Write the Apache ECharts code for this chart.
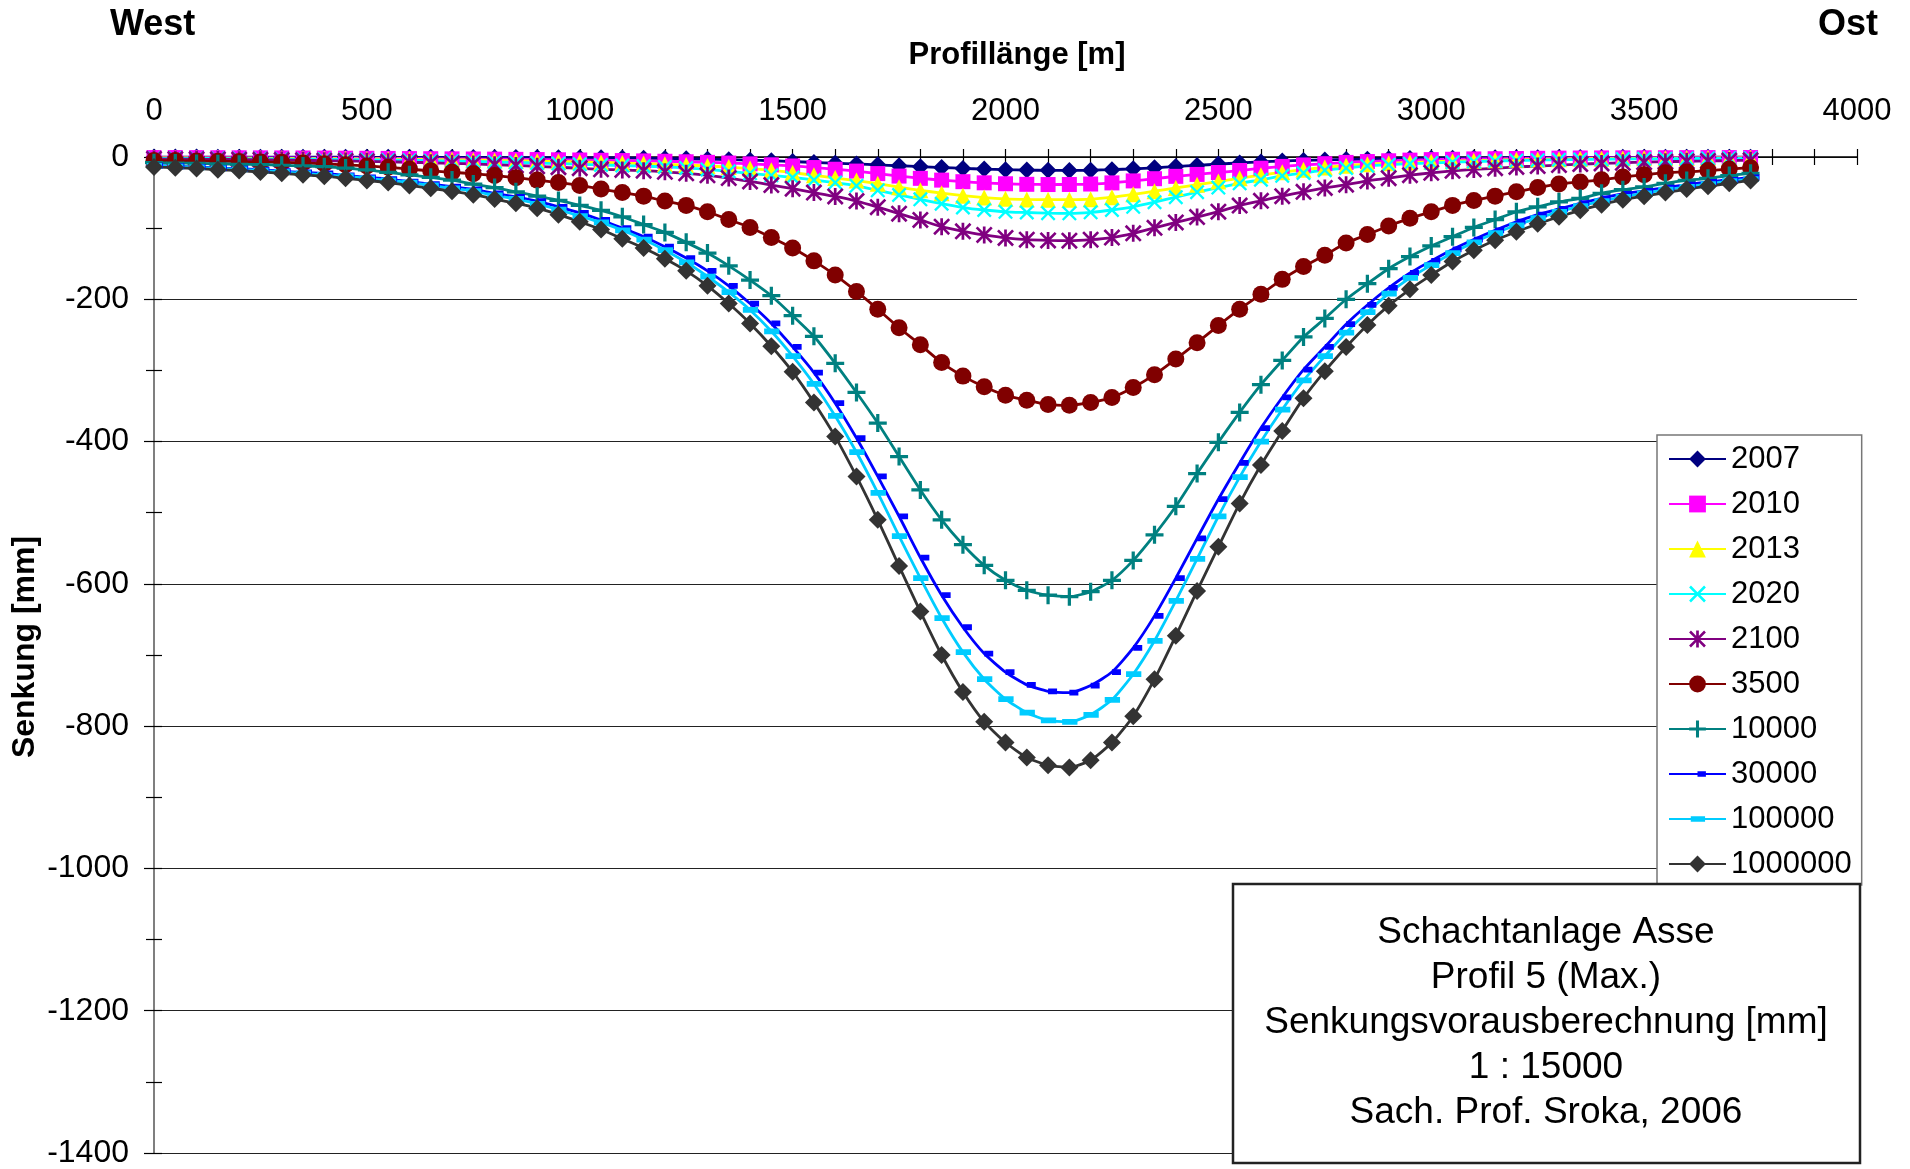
<!DOCTYPE html>
<html>
<head>
<meta charset="utf-8">
<script src="https://cdn.jsdelivr.net/npm/echarts@6/dist/echarts.min.js"></script>
<style>
html, body { margin: 0; padding: 0; background: #fff; }
#chart { width: 1910px; height: 1169px; }
</style>
</head>
<body>
<div id="chart"></div>
<script>
// Profile positions along the section line [m]
const profileX = [0,50,100,150,200,250,300,350,400,450,500,550,600,650,700,750,800,850,900,950,
  1000,1050,1100,1150,1200,1250,1300,1350,1400,1450,1500,1550,1600,1650,1700,1750,1800,1850,1900,1950,
  2000,2050,2100,2150,2200,2250,2300,2350,2400,2450,2500,2550,2600,2650,2700,2750,2800,2850,2900,2950,
  3000,3050,3100,3150,3200,3250,3300,3350,3400,3450,3500,3550,3600,3650,3700,3750];

// Forecast years / time horizons
const seriesNames = ['2007','2010','2013','2020','2100','3500','10000','30000','100000','1000000'];

// Subsidence [mm] per profile position, one array per horizon
const s2007 = [-0.1,-0.1,-0.1,-0.2,-0.2,-0.2,-0.2,-0.3,-0.3,-0.3,
  -0.4,-0.4,-0.5,-0.5,-0.6,-0.6,-0.7,-0.8,-0.8,-0.9,
  -1.0,-1.2,-1.4,-1.7,-2.0,-2.5,-3.1,-3.8,-4.5,-5.3,
  -6.4,-7.6,-8.7,-9.8,-11.0,-12.3,-13.6,-14.8,-16.0,-17.0,
  -17.8,-18.4,-18.8,-18.9,-18.6,-17.8,-16.6,-15.2,-13.4,-11.8,
  -10.0,-8.3,-6.9,-5.7,-4.8,-4.1,-3.5,-3.0,-2.6,-2.2,
  -1.9,-1.6,-1.4,-1.2,-1.0,-0.9,-0.8,-0.7,-0.6,-0.5,
  -0.5,-0.4,-0.4,-0.3,-0.3,-0.3];
const s2010 = [-0.8,-0.8,-0.9,-1.0,-1.1,-1.2,-1.3,-1.4,-1.5,-1.7,
  -1.8,-2.0,-2.2,-2.4,-2.6,-2.8,-3.0,-3.3,-3.6,-3.9,
  -4.2,-4.6,-5.0,-5.5,-6.0,-6.7,-7.5,-8.5,-9.7,-11.0,
  -12.6,-14.8,-17.2,-19.8,-23.3,-26.8,-30.0,-32.5,-34.7,-36.3,
  -37.6,-38.4,-38.7,-38.6,-38.0,-36.4,-33.6,-30.5,-27.2,-24.5,
  -21.8,-19.0,-15.8,-13.2,-11.2,-9.4,-7.6,-6.4,-5.3,-4.4,
  -3.7,-3.2,-2.7,-2.4,-2.1,-1.8,-1.6,-1.4,-1.3,-1.2,
  -1.1,-1.0,-0.9,-0.8,-0.8,-0.7];
const s2013 = [-1.2,-1.3,-1.4,-1.5,-1.6,-1.8,-1.9,-2.1,-2.3,-2.5,
  -2.7,-3.0,-3.3,-3.6,-4.0,-4.4,-4.8,-5.3,-5.8,-6.4,
  -7.0,-7.7,-8.5,-9.3,-10.2,-11.3,-12.6,-14.2,-16.2,-18.8,
  -22.0,-25.8,-29.6,-33.2,-37.5,-42.5,-46.8,-50.8,-54.3,-57.0,
  -58.8,-59.6,-60.0,-60.0,-59.3,-56.5,-52.5,-48.0,-43.5,-39.0,
  -34.5,-30.0,-25.5,-21.5,-17.8,-14.6,-12.2,-10.2,-8.7,-7.6,
  -6.6,-5.8,-5.1,-4.5,-3.9,-3.4,-3.0,-2.6,-2.3,-2.1,
  -1.9,-1.7,-1.5,-1.4,-1.3,-1.2];
const s2020 = [-1.8,-1.9,-2.0,-2.2,-2.4,-2.6,-2.8,-3.0,-3.3,-3.6,
  -3.9,-4.3,-4.7,-5.2,-5.7,-6.3,-7.0,-7.7,-8.5,-9.3,
  -10.2,-11.2,-12.0,-12.9,-13.9,-15.5,-17.5,-20.2,-23.0,-25.8,
  -28.8,-32.3,-36.0,-40.5,-46.8,-53.4,-59.5,-65.7,-71.0,-74.5,
  -77.0,-78.0,-79.0,-79.2,-77.8,-74.5,-70.0,-63.5,-56.5,-49.5,
  -43.0,-37.0,-32.0,-26.5,-22.5,-18.5,-15.5,-12.5,-10.8,-9.4,
  -8.3,-7.3,-6.4,-5.6,-5.0,-4.4,-3.9,-3.5,-3.2,-2.9,
  -2.6,-2.4,-2.2,-2.0,-1.9,-1.8];
const s2100 = [-2.8,-3.0,-3.2,-3.4,-3.7,-4.0,-4.3,-4.7,-5.1,-5.6,
  -6.1,-6.7,-7.4,-8.1,-8.9,-9.8,-10.8,-11.9,-13.1,-14.4,
  -15.8,-17.3,-18.2,-19.2,-20.8,-23.0,-25.8,-29.6,-34.4,-39.4,
  -44.5,-50.0,-55.5,-62.0,-70.5,-79.6,-88.5,-98.0,-104.5,-109.6,
  -113.8,-116.2,-117.2,-117.6,-116.2,-113.2,-107.3,-99.6,-92.0,-84.5,
  -76.8,-68.2,-61.6,-55.0,-49.0,-43.5,-38.9,-33.6,-29.8,-25.6,
  -22.3,-19.5,-17.5,-15.8,-14.0,-12.7,-11.3,-10.0,-9.0,-8.1,
  -7.3,-6.6,-6.0,-5.5,-5.0,-4.6];
const s3500 = [-5.0,-5.0,-5.5,-6.0,-6.5,-7.0,-7.5,-8.5,-9.5,-11.0,
  -12.5,-14.5,-17.0,-19.5,-21.5,-23.5,-26.0,-29.0,-32.5,-36.0,
  -40.0,-45.0,-50.0,-55.0,-62.0,-68.0,-77.0,-88.0,-99.0,-113.0,
  -128.0,-146.0,-166.0,-189.0,-214.0,-240.0,-264.0,-289.0,-308.0,-323.0,
  -335.0,-342.0,-348.0,-349.0,-345.0,-338.0,-324.0,-306.0,-284.0,-261.0,
  -237.0,-214.0,-193.0,-172.0,-154.0,-138.0,-121.0,-109.0,-97.0,-86.0,
  -77.0,-68.0,-61.0,-55.0,-49.0,-43.0,-38.0,-35.0,-32.0,-28.0,
  -25.0,-22.0,-21.0,-19.0,-17.0,-15.0];
const s10000 = [-8.0,-8.5,-9.0,-9.5,-10.2,-10.8,-11.6,-12.5,-13.6,-15.5,
  -18.0,-21.5,-25.0,-28.5,-32.5,-38.0,-43.0,-49.0,-55.0,-61.0,
  -68.0,-75.0,-84.0,-95.0,-106.0,-120.0,-135.0,-153.0,-173.0,-195.0,
  -223.0,-252.0,-290.0,-331.0,-374.0,-421.0,-468.0,-510.0,-545.0,-574.0,
  -595.0,-609.0,-616.0,-618.0,-611.0,-595.0,-567.0,-531.0,-491.0,-445.0,
  -401.0,-359.0,-320.0,-286.0,-253.0,-227.0,-200.0,-178.0,-157.0,-140.0,
  -125.0,-112.0,-99.0,-88.0,-77.0,-70.0,-63.0,-58.0,-51.0,-46.0,
  -42.0,-37.0,-33.0,-30.0,-26.0,-23.0];
const s30000 = [-12,-13,-14,-15.5,-16.5,-18,-20,-21.5,-23,-26,
  -28.5,-31,-34.5,-38,-41.5,-45.5,-51,-56,-62,-70,
  -78.5,-88.5,-100,-112,-126,-142,-160,-181,-206,-234,
  -267,-303,-346,-395,-449,-505,-563,-616,-661,-698,
  -724,-742,-751,-753,-743,-724,-690,-645,-592,-536,
  -481,-430,-381,-338,-299,-267,-235,-208,-184,-163,
  -146,-130,-116,-103,-91,-81,-73,-65,-58,-52,
  -47.5,-43,-39,-35,-32,-28.5];
const s100000 = [-12.5,-13.5,-14.5,-16,-17.5,-19,-21,-23,-25,-27,
  -30,-33,-36,-40,-44,-48,-54,-59,-66,-74,
  -83,-92,-103,-116,-131,-148,-168,-190,-215,-245,
  -280,-319,-364,-415,-472,-533,-592,-648,-696,-734,
  -762,-781,-792,-794,-784,-763,-727,-680,-624,-565,
  -505,-450,-400,-355,-314,-280,-247,-218,-192,-170,
  -152,-135,-120,-107,-96,-86,-77,-69,-62,-56,
  -51,-46,-42,-38,-34,-31];
const s1000000 = [-14,-15,-16,-18,-19,-21,-23,-25,-27,-30,
  -33,-36,-40,-44,-48,-53,-59,-65,-72,-81,
  -91,-102,-115,-128,-143,-160,-181,-206,-234,-266,
  -302,-345,-393,-449,-510,-575,-639,-700,-752,-794,
  -823,-844,-855,-858,-848,-823,-786,-734,-673,-610,
  -548,-487,-433,-385,-339,-301,-267,-236,-209,-186,
  -166,-147,-131,-117,-105,-94,-84,-75,-67,-60,
  -55,-50,-45,-41,-37,-33];

const seriesValues = [s2007, s2010, s2013, s2020, s2100, s3500, s10000, s30000, s100000, s1000000];

// Text of the caption box
const captionLines = ['Schachtanlage Asse', 'Profil 5 (Max.)', 'Senkungsvorausberechnung [mm]', '1 : 15000', 'Sach. Prof. Sroka, 2006'];

// ---- styling ----
const FONT = '"Liberation Sans", Arial, Helvetica, sans-serif';
const colors = ['#000080', '#FF00FF', '#FFFF00', '#00FFFF', '#800080', '#800000', '#008080', '#0000FF', '#00CCFF', '#333333'];

// Marker shapes: filled outlines for +, x and asterisk, thin bars for the dash markers
const PLUS = 'path://M4.1,0 L5.9,0 L5.9,4.1 L10,4.1 L10,5.9 L5.9,5.9 L5.9,10 L4.1,10 L4.1,5.9 L0,5.9 L0,4.1 L4.1,4.1 Z';
const CROSS = 'path://M0,1.1 L1.1,0 L5,3.9 L8.9,0 L10,1.1 L6.1,5 L10,8.9 L8.9,10 L5,6.1 L1.1,10 L0,8.9 L3.9,5 Z';
const STAR = 'path://M0,1.1 L1.1,0 L5,3.9 L8.9,0 L10,1.1 L6.1,5 L10,8.9 L8.9,10 L5,6.1 L1.1,10 L0,8.9 L3.9,5 Z M4.2,0 L5.8,0 L5.8,10 L4.2,10 Z';
const DASH_SHORT = 'path://M0,0 L0.01,0 L0,0.01 Z M5,3.4 L10,3.4 L10,6.6 L5,6.6 Z M10,10 L9.99,10 L10,9.99 Z';
const DASH_LONG = 'path://M0,0 L0.01,0 L0,0.01 Z M1,3.4 L9.5,3.4 L9.5,6.6 L1,6.6 Z M10,10 L9.99,10 L10,9.99 Z';
const markers = ['diamond', 'rect', 'triangle', CROSS, STAR, 'circle', PLUS, DASH_SHORT, DASH_LONG, 'diamond'];
const markerSizes = [17, 15, 16, 15, 17, 17, 18, 18, 18, 18];

const series = seriesNames.map((name, i) => ({
  name: name,
  type: 'line',
  xAxisIndex: 0,
  yAxisIndex: 0,
  data: profileX.map((x, j) => [x, seriesValues[i][j]]),
  symbol: markers[i],
  symbolSize: markerSizes[i],
  showSymbol: true,
  showAllSymbol: true,
  clip: false,
  smooth: 0.2,
  itemStyle: { color: colors[i], borderWidth: 0 },
  lineStyle: { color: colors[i], width: 2.8 },
  emphasis: { disabled: true },
  animation: false
}));

const plainNumber = (v) => String(v);

const chart = echarts.init(document.getElementById('chart'), null, { renderer: 'canvas' });

chart.setOption({
  animation: false,
  backgroundColor: '#ffffff',
  textStyle: { fontFamily: FONT },
  grid: { left: 154, right: 53, top: 157, bottom: 16, containLabel: false },
  xAxis: [
    {
      type: 'value', position: 'top', min: 0, max: 4000, interval: 500,
      axisLine: { show: true, onZero: false, lineStyle: { color: '#000', width: 1.5 } },
      axisTick: { show: true, inside: false, length: 8, lineStyle: { color: '#000', width: 1.2 } },
      minorTick: { show: true, splitNumber: 5, length: 8, lineStyle: { color: '#000', width: 1.2 } },
      axisLabel: { show: true, fontSize: 31, color: '#000', margin: 30, fontFamily: FONT, showMinLabel: true, showMaxLabel: true, formatter: plainNumber },
      splitLine: { show: false }
    },
    {
      type: 'value', position: 'top', min: 0, max: 4000, interval: 500,
      axisLine: { show: false, onZero: false },
      axisTick: { show: true, inside: true, length: 8, lineStyle: { color: '#000', width: 1.2 } },
      minorTick: { show: true, splitNumber: 5, length: 8, lineStyle: { color: '#000', width: 1.2 } },
      axisLabel: { show: false },
      splitLine: { show: false }
    }
  ],
  yAxis: [
    {
      type: 'value', position: 'left', min: -1400, max: 0, interval: 200,
      axisLine: { show: true, onZero: false, lineStyle: { color: '#555', width: 1.5 } },
      axisTick: { show: true, inside: false, length: 10, lineStyle: { color: '#000', width: 1.2 } },
      minorTick: { show: true, splitNumber: 2, length: 8, lineStyle: { color: '#000', width: 1.2 } },
      axisLabel: { show: true, fontSize: 32, color: '#000', margin: 25, fontFamily: FONT, formatter: plainNumber },
      splitLine: { show: true, lineStyle: { color: '#222', width: 1.2 } }
    },
    {
      type: 'value', position: 'left', min: -1400, max: 0, interval: 200,
      axisLine: { show: false, onZero: false },
      axisTick: { show: true, inside: true, length: 8, lineStyle: { color: '#000', width: 1.2 } },
      minorTick: { show: true, splitNumber: 2, length: 8, lineStyle: { color: '#000', width: 1.2 } },
      axisLabel: { show: false },
      splitLine: { show: false }
    }
  ],
  legend: {
    orient: 'vertical',
    left: 1657,
    top: 435,
    data: seriesNames,
    itemWidth: 57,
    itemHeight: 21,
    itemGap: 11,
    padding: [7, 10, 4, 11],
    backgroundColor: '#ffffff',
    borderColor: '#777777',
    borderWidth: 1.5,
    borderRadius: 0,
    selectedMode: false,
    textStyle: { fontSize: 31, lineHeight: 34, color: '#000', fontFamily: FONT },
    z: 20
  },
  graphic: [
    { type: 'text', x: 110, y: 25, z: 100,
      style: { text: 'West', fontSize: 36, fontWeight: 'bold', fontFamily: FONT, fill: '#000', align: 'left', verticalAlign: 'middle' } },
    { type: 'text', x: 1878, y: 25, z: 100,
      style: { text: 'Ost', fontSize: 36, fontWeight: 'bold', fontFamily: FONT, fill: '#000', align: 'right', verticalAlign: 'middle' } },
    { type: 'text', x: 1017, y: 55, z: 100,
      style: { text: 'Profillänge [m]', fontSize: 31, fontWeight: 'bold', fontFamily: FONT, fill: '#000', align: 'center', verticalAlign: 'middle' } },
    { type: 'text', x: 25, y: 647, rotation: Math.PI / 2, z: 100,
      style: { text: 'Senkung [mm]', fontSize: 32, fontWeight: 'bold', fontFamily: FONT, fill: '#000', align: 'center', verticalAlign: 'middle' } },
    { type: 'rect', z: 100,
      shape: { x: 1233, y: 884, width: 627, height: 279 },
      style: { fill: '#ffffff', stroke: '#222222', lineWidth: 2.5 } },
    { type: 'text', x: 1546, y: 1023, z: 101,
      style: { text: captionLines.join('\n'), fontSize: 37, lineHeight: 45, fontFamily: FONT, fill: '#000', align: 'center', verticalAlign: 'middle' } }
  ],
  series: series
});
</script>
</body>
</html>
